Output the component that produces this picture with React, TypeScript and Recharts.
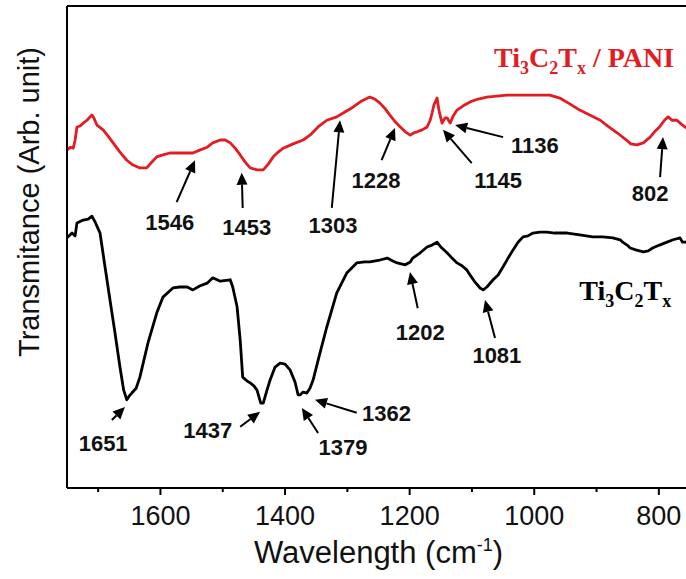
import { LineChart, Line, XAxis, YAxis, ReferenceLine, ReferenceDot } from "recharts";

// wavenumber (cm-1) and transmittance (arb. unit)
const PANI_WAVENUMBER = [
  1750, 1745, 1740, 1737, 1734, 1729, 1724, 1718, 1710, 1707, 1702, 1692, 1684, 1676, 1665, 1654, 1644, 1633,
  1622, 1614, 1606, 1596, 1585, 1569, 1548, 1537, 1525, 1516, 1504, 1496, 1488, 1480, 1472, 1464, 1456, 1445,
  1435, 1427, 1419, 1411, 1403, 1387, 1371, 1360, 1347, 1333, 1317, 1304, 1291, 1277, 1264, 1256, 1248, 1240,
  1232, 1224, 1215, 1207, 1199, 1193, 1188, 1180, 1172, 1167, 1164, 1161, 1156, 1153, 1148, 1143, 1140, 1135,
  1130, 1124, 1114, 1103, 1090, 1076, 1060, 1044, 1023, 999, 975, 959, 943, 927, 911, 894, 882, 867, 854, 845,
  835, 825, 814, 807, 799, 791, 785, 779, 771, 764, 756, 750,
];
const PANI_T = [
  70.1, 70.7, 70.5, 72.2, 74.9, 75.1, 75.7, 76.3, 77.4, 76.8, 75.3, 74.3, 73.0, 71.6, 69.7, 68.0, 67.0, 66.4,
  66.4, 67.6, 68.7, 69.1, 69.5, 69.5, 69.5, 70.1, 70.7, 71.6, 72.2, 72.2, 71.6, 70.5, 69.1, 67.6, 66.4, 66.0,
  66.0, 67.2, 68.7, 69.7, 70.5, 71.4, 72.2, 73.2, 74.9, 76.3, 77.0, 78.0, 79.0, 80.3, 81.1, 80.7, 79.9, 78.8,
  77.4, 76.1, 74.9, 73.9, 73.2, 73.7, 73.9, 74.3, 74.9, 76.3, 77.8, 79.5, 80.9, 78.4, 75.7, 76.8, 76.8, 75.7,
  77.2, 78.4, 79.3, 80.1, 80.7, 81.1, 81.3, 81.5, 81.5, 81.5, 81.5, 80.9, 79.7, 78.4, 77.4, 76.3, 75.1, 73.7,
  72.4, 71.4, 71.2, 71.6, 72.8, 73.9, 74.9, 76.3, 77.0, 76.3, 76.3, 75.5, 74.7, 74.1,
];

const MXENE_WAVENUMBER = [
  1750, 1742, 1737, 1734, 1724, 1716, 1710, 1705, 1697, 1689, 1681, 1673, 1665, 1659, 1654, 1650, 1646, 1639,
  1633, 1620, 1606, 1596, 1580, 1569, 1557, 1548, 1537, 1525, 1516, 1504, 1488, 1484, 1477, 1472, 1468, 1461,
  1456, 1450, 1445, 1439, 1435, 1429, 1424, 1416, 1408, 1400, 1392, 1384, 1379, 1376, 1371, 1365, 1360, 1355,
  1344, 1333, 1317, 1301, 1285, 1272, 1264, 1248, 1236, 1227, 1220, 1207, 1199, 1195, 1183, 1172, 1164, 1156,
  1150, 1140, 1132, 1124, 1116, 1108, 1102, 1095, 1087, 1082, 1076, 1066, 1058, 1050, 1042, 1034, 1026, 1018,
  1010, 1002, 991, 980, 967, 947, 927, 906, 890, 874, 862, 858, 851, 846, 837, 825, 817, 810, 799, 787, 777,
  766, 762, 757, 750,
];
const MXENE_T = [
  51.9, 52.9, 52.3, 55.0, 55.6, 55.8, 56.4, 55.2, 52.9, 45.9, 39.0, 32.2, 25.1, 20.3, 18.3, 19.1, 19.7, 20.7,
  23.0, 30.1, 36.3, 39.6, 41.5, 41.7, 41.7, 41.1, 41.9, 42.5, 43.6, 42.9, 43.2, 41.7, 37.6, 30.7, 23.0, 22.2,
  21.8, 21.2, 20.3, 17.6, 17.6, 20.3, 22.4, 25.1, 25.9, 25.7, 24.5, 22.0, 19.3, 19.3, 19.9, 19.7, 20.7, 22.4,
  28.0, 33.4, 40.5, 44.6, 46.7, 46.9, 46.9, 47.3, 47.7, 47.1, 46.7, 46.3, 46.9, 47.7, 48.8, 50.0, 50.4, 51.0,
  50.0, 48.8, 47.7, 46.7, 46.1, 45.2, 44.0, 42.7, 41.5, 41.1, 41.7, 43.2, 44.2, 45.9, 47.7, 49.4, 51.0, 52.1,
  52.3, 52.9, 53.1, 53.1, 52.9, 52.9, 52.5, 52.1, 52.1, 51.9, 51.5, 51.0, 50.4, 49.8, 49.4, 49.0, 49.2, 49.8,
  50.4, 51.0, 51.5, 51.9, 51.0, 51.0, 51.5,
];

const X_TICKS = [1700, 1600, 1500, 1400, 1300, 1200, 1100, 1000, 900, 800];
const X_LABELS = [1600, 1400, 1200, 1000, 800];

// peak annotations: label position, arrow tail, arrow head (wavenumber, T)
const PEAKS = [
  { text: "1546", lx: 1585, ly: 55.2, tx: 1574, ty: 59.3, hx: 1544.5, hy: 68.0 },
  { text: "1453", lx: 1461.6, ly: 54.1, tx: 1468, ty: 58.1, hx: 1469.6, hy: 65.4 },
  { text: "1303", lx: 1323, ly: 54.6, tx: 1325, ty: 58.1, hx: 1311.8, hy: 76.3 },
  { text: "1228", lx: 1254, ly: 63.9, tx: 1245, ty: 68.0, hx: 1223.5, hy: 74.7 },
  { text: "1145", lx: 1058, ly: 63.9, tx: 1100.4, ty: 67.4, hx: 1146.5, hy: 74.3 },
  { text: "1136", lx: 999, ly: 71.2, tx: 1050, ty: 72.8, hx: 1127, hy: 75.3 },
  { text: "802", lx: 814, ly: 61.2, tx: 798, ty: 64.5, hx: 793.3, hy: 72.8 },
  { text: "1651", lx: 1692, ly: 9.3, tx: 1678, ty: 14.1, hx: 1657, hy: 16.8 },
  { text: "1437", lx: 1524, ly: 12.0, tx: 1472, ty: 12.7, hx: 1440, hy: 15.8 },
  { text: "1379", lx: 1307, ly: 8.5, tx: 1347, ty: 11.4, hx: 1373, hy: 16.6 },
  { text: "1362", lx: 1237, ly: 15.6, tx: 1285, ty: 15.6, hx: 1352, hy: 18.3 },
  { text: "1202", lx: 1183, ly: 32.4, tx: 1187, ty: 37.3, hx: 1199.5, hy: 44.8 },
  { text: "1081", lx: 1060, ly: 27.6, tx: 1063, ty: 31.1, hx: 1079, hy: 39.0 },
];

const RED = "#e31b23";

const paniData = PANI_WAVENUMBER.map((w, i) => ({ w, t: PANI_T[i] }));
const mxeneData = MXENE_WAVENUMBER.map((w, i) => ({ w, t: MXENE_T[i] }));

function XTick(props: any) {
  const { x, y, payload } = props;
  const major = X_LABELS.includes(payload.value);
  return (
    <g>
      <line x1={x} y1={y} x2={x} y2={y + (major ? 7 : 4)} stroke="#000" strokeWidth={2} />
      {major && (
        <text x={x} y={y + 37} textAnchor="middle" fontSize={27} fontFamily="'Liberation Sans', Arial" fill="#111">
          {payload.value}
        </text>
      )}
    </g>
  );
}

function Arrow(props: any) {
  const { x1, y1, x2, y2 } = props;
  const a = Math.atan2(y2 - y1, x2 - x1);
  const len = 12;
  const hw = 5.5;
  const bx = x2 - len * Math.cos(a);
  const by = y2 - len * Math.sin(a);
  const px = -Math.sin(a) * hw;
  const py = Math.cos(a) * hw;
  return (
    <g>
      <line x1={x1} y1={y1} x2={bx} y2={by} stroke="#000" strokeWidth={2} />
      <polygon points={`${x2},${y2} ${bx + px},${by + py} ${bx - px},${by - py}`} fill="#000" />
    </g>
  );
}

function peakLabel(text: string) {
  return (p: any) => (
    <text x={p.cx} y={p.cy} dy="0.36em" textAnchor="middle" fontSize={22} fontWeight="bold"
      fontFamily="'Liberation Sans', Arial" fill="#111">
      {text}
    </text>
  );
}

function seriesLabel(color: string, pani: boolean) {
  return (p: any) => (
    <text x={p.cx} y={p.cy} textAnchor="middle" fontSize={28} fontWeight="bold"
      fontFamily="'Liberation Serif', 'Times New Roman', serif" fill={color}>
      <tspan>Ti</tspan>
      <tspan fontSize={18} dy={7}>3</tspan>
      <tspan dy={-7}>C</tspan>
      <tspan fontSize={18} dy={7}>2</tspan>
      <tspan dy={-7}>T</tspan>
      <tspan fontSize={18} dy={7}>x</tspan>
      {pani && <tspan dy={-7}> / PANI</tspan>}
    </text>
  );
}

function XTitle(props: any) {
  const { viewBox } = props;
  const cx = viewBox.x + viewBox.width / 2;
  return (
    <text x={cx} y={563} textAnchor="middle" fontSize={31} fontFamily="'Liberation Sans', Arial" fill="#111">
      <tspan>Wavelength (cm</tspan>
      <tspan fontSize={18} dy={-12}>-1</tspan>
      <tspan dy={12}>)</tspan>
    </text>
  );
}

function YTitle() {
  return (
    <text x={29} y={202} transform="rotate(-90, 29, 202)" textAnchor="middle" dominantBaseline="central"
      fontSize={29} fontFamily="'Liberation Sans', Arial" fill="#111">
      Transmitance (Arb. unit)
    </text>
  );
}

export default function App() {
  return (
    <div style={{ position: "absolute", left: 0, top: 0, width: 686, height: 579, overflow: "hidden", background: "#fff" }}>
      <LineChart width={700} height={579} margin={{ top: 6, right: 10, bottom: 0, left: 0 }}>
        <XAxis
          dataKey="w"
          type="number"
          domain={[750, 1750]}
          reversed
          allowDataOverflow
          ticks={X_TICKS}
          interval={0}
          tickSize={0}
          tickMargin={0}
          tickLine={false}
          tick={<XTick />}
          height={91}
          axisLine={{ stroke: "#000", strokeWidth: 2 }}
          label={{ content: XTitle }}
        />
        <YAxis
          type="number"
          domain={[0, 100]}
          width={67}
          tick={false}
          tickLine={false}
          axisLine={{ stroke: "#000", strokeWidth: 2 }}
          label={{ content: YTitle }}
        />
        <ReferenceLine y={100} stroke="#000" strokeWidth={2} />
        <ReferenceLine x={750} stroke="#000" strokeWidth={2} />
        <Line data={mxeneData} dataKey="t" stroke="#000" strokeWidth={2.8} dot={false} isAnimationActive={false} strokeLinejoin="round" />
        <Line data={paniData} dataKey="t" stroke={RED} strokeWidth={2.8} dot={false} isAnimationActive={false} strokeLinejoin="round" />
        {PEAKS.map((p) => (
          <ReferenceLine key={"a" + p.text} segment={[{ x: p.tx, y: p.ty }, { x: p.hx, y: p.hy }]} shape={Arrow} />
        ))}
        {PEAKS.map((p) => (
          <ReferenceDot key={"l" + p.text} x={p.lx} y={p.ly} r={0} shape={peakLabel(p.text)} />
        ))}
        <ReferenceDot x={920} y={87.3} r={0} shape={seriesLabel(RED, true)} />
        <ReferenceDot x={854} y={39.0} r={0} shape={seriesLabel("#000", false)} />
      </LineChart>
    </div>
  );
}
